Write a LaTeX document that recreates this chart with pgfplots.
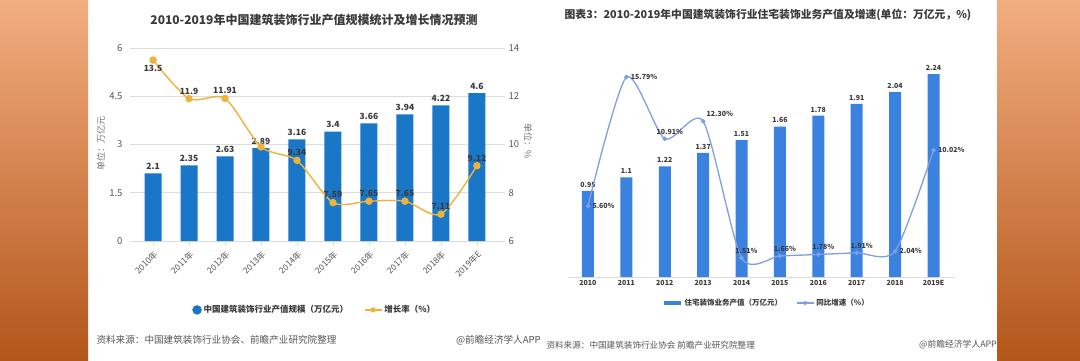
\documentclass[border=0pt]{standalone}
\usepackage{pgfplots}
\pgfplotsset{compat=1.18}
\usepackage{fontspec}
\setmainfont{Noto Sans CJK SC}
\definecolor{barL}{HTML}{1A76C6}
\definecolor{lineL}{HTML}{EDB33A}
\definecolor{barR}{HTML}{3B82E0}
\definecolor{lineR}{HTML}{7F9FDE}
\definecolor{gridc}{HTML}{DDDDDD}
\definecolor{txt}{HTML}{3A3A3A}
\definecolor{src}{HTML}{555555}
\definecolor{orTop}{HTML}{F2AE80}
\definecolor{orMid}{HTML}{E9853A}
\definecolor{orBot}{HTML}{B3561B}

\pgfplotstableread{
x val
0 2.1
1 2.35
2 2.63
3 2.89
4 3.16
5 3.4
6 3.66
7 3.94
8 4.22
9 4.6
}\leftbars
\pgfplotstableread{
x val
0 13.5
1 11.9
2 11.91
3 9.9
4 9.34
5 7.59
6 7.65
7 7.65
8 7.11
9 9.12
}\leftline
\pgfplotstableread{
x val
0 0.95
1 1.1
2 1.22
3 1.37
4 1.51
5 1.66
6 1.78
7 1.91
8 2.04
9 2.24
}\rightbars
\pgfplotstableread{
x val
0 5.60
1 15.79
2 10.91
3 12.30
4 1.51
5 1.66
6 1.78
7 1.91
8 2.04
9 10.02
}\rightline

\begin{document}
\begin{tikzpicture}[x=1pt,y=1pt]
\path[use as bounding box] (0,0) rectangle (1080,360);
\fill[white] (0,0) rectangle (1080,360);
\shade[top color=orTop, middle color=orMid, bottom color=orBot] (0,0) rectangle (88,360);
\shade[top color=orTop, middle color=orMid, bottom color=orBot] (997,0) rectangle (1080,360);

% ---------- left chart: bars ----------
\begin{axis}[at={(130pt,119pt)}, anchor=south west, scale only axis,
  width=375pt, height=193pt,
  xmin=-0.64, xmax=9.78, ymin=0, ymax=6,
  ytick={0,1.5,3,4.5,6}, yticklabels={0,1.5,3,4.5,6},
  ymajorgrids, grid style={gridc, line width=0.7pt},
  axis line style={draw=none},
  xtick={0,...,9},
  xticklabels={2010年,2011年,2012年,2013年,2014年,2015年,2016年,2017年,2018年,2019年E},
  x tick label style={rotate=45, anchor=north east, font=\fontsize{8.5}{8.5}\selectfont, text=src},
  y tick label style={font=\fontsize{9.5}{9.5}\selectfont, text=src},
  /pgf/number format/assume math mode=true,
  tick pos=left, tick align=outside, major tick length=4pt,
  xtick style={gridc, line width=0.7pt}, ytick style={draw=none},
  clip=false]
\addplot[ybar, bar width=17pt, fill=barL, draw=none,
  nodes near coords, nodes near coords style={font=\fontsize{8.5}{8.5}\selectfont\bfseries, text=txt},
  point meta=explicit symbolic] table[x=x, y=val, meta=val] {\leftbars};
\end{axis}

% ---------- left chart: line ----------
\begin{axis}[at={(130pt,119pt)}, anchor=south west, scale only axis,
  width=375pt, height=193pt,
  xmin=-0.64, xmax=9.78, ymin=6, ymax=14,
  ytick={6,8,10,12,14},
  axis y line*=right, axis x line=none,
  axis line style={draw=none}, ytick style={draw=none},
  y tick label style={font=\fontsize{9.5}{9.5}\selectfont, text=src},
  /pgf/number format/assume math mode=true,
  clip=false,
  legend style={at={(0.493,-0.357)}, anchor=center, draw=none, fill=none,
    legend columns=2, font=\fontsize{8.5}{8.5}\selectfont\bfseries, text=txt,
    /tikz/every even column/.append style={column sep=14pt}},
  legend cell align=left]
\addplot[lineL, line width=1.4pt, smooth, tension=0.45, mark=*, mark size=3pt,
  mark options={fill=lineL, draw=lineL}, forget plot] table[x=x, y=val] {\leftline};
% labels below (13.5)
\addplot[draw=none, mark=none, forget plot, nodes near coords,
  point meta=explicit symbolic,
  nodes near coords style={anchor=north, yshift=-2pt, font=\fontsize{8.5}{8.5}\selectfont\bfseries, text=txt}]
  table[meta=v] {x y v
0 13.5 13.5
};
% labels above
\addplot[draw=none, mark=none, forget plot, nodes near coords,
  point meta=explicit symbolic,
  nodes near coords style={anchor=south, yshift=1pt, font=\fontsize{8.5}{8.5}\selectfont\bfseries, text=txt}]
  table[meta=v] {x y v
1 11.9 11.9
2 11.91 11.91
4 9.34 9.34
5 7.59 7.59
6 7.65 7.65
7 7.65 7.65
8 7.11 7.11
9 9.12 9.12
};
\addlegendimage{only marks, mark=*, mark size=4.5pt, barL, mark options={fill=barL, draw=barL}}
\addlegendentry{中国建筑装饰行业产值规模（万亿元）}
\addlegendimage{lineL, line width=1.2pt, mark=*, mark size=2pt, mark options={fill=lineL}}
\addlegendentry{增长率（\%）}
\end{axis}

\node[font=\fontsize{12}{12}\selectfont\bfseries, text=txt] at (314,340) {2010-2019年中国建筑装饰行业产值规模统计及增长情况预测};
\node[font=\fontsize{9}{9}\selectfont, text=src!80, rotate=90] at (101,217) {单位：万亿元};
\node[font=\fontsize{9}{9}\selectfont, text=src!80, rotate=-90] at (528,219) {单位：\%};
\node[font=\fontsize{9.6}{10}\selectfont, text=src, anchor=west] at (93,20) {资料来源：中国建筑装饰行业协会、前瞻产业研究院整理};
\node[font=\fontsize{9.6}{10}\selectfont, text=src, anchor=east, inner sep=0pt] at (541,20) {@前瞻经济学人APP};

% ---------- right chart: bars ----------
\begin{axis}[at={(568pt,83pt)}, anchor=south west, scale only axis,
  width=387pt, height=226.5pt,
  xmin=-0.52, xmax=9.56, ymin=0, ymax=2.5,
  axis y line=none, axis x line*=bottom,
  x axis line style={gridc, line width=0.8pt, -},
  xtick={0,...,9},
  xticklabels={2010,2011,2012,2013,2014,2015,2016,2017,2018,2019E},
  xtick style={draw=none},
  x tick label style={font=\fontsize{7}{7}\selectfont\bfseries, text=txt},
  clip=false]
\addplot[ybar, bar width=12pt, fill=barR, draw=none,
  nodes near coords, nodes near coords style={font=\fontsize{7}{7}\selectfont\bfseries, text=txt},
  point meta=explicit symbolic] table[x=x, y=val, meta=val] {\rightbars};
\end{axis}

% ---------- right chart: line ----------
\begin{axis}[at={(568pt,83pt)}, anchor=south west, scale only axis,
  width=387pt, height=226.5pt,
  xmin=-0.52, xmax=9.56, ymin=0, ymax=17.89,
  hide axis, clip=false,
  legend style={at={(0.512,-0.115)}, anchor=center, draw=none, fill=none,
    legend columns=2, font=\fontsize{7.5}{7.5}\selectfont\bfseries, text=txt,
    /tikz/every even column/.append style={column sep=12pt}},
  legend cell align=left]
\addplot[lineR, line width=1.3pt, smooth, tension=0.42, mark=*, mark size=1.6pt,
  mark options={fill=lineR, draw=lineR}, forget plot] table[x=x, y=val] {\rightline};
\addplot[draw=none, mark=none, forget plot, nodes near coords,
  point meta=explicit symbolic,
  nodes near coords style={anchor=west, xshift=1pt, font=\fontsize{7}{7}\selectfont\bfseries, text=txt}]
  table[meta=v] {x y v
0 5.60 5.60\%
1 15.79 15.79\%
8 2.04 2.04\%
9 10.02 10.02\%
};
\addplot[draw=none, mark=none, forget plot, nodes near coords,
  point meta=explicit symbolic,
  nodes near coords style={anchor=south west, xshift=0pt, yshift=1pt, font=\fontsize{7}{7}\selectfont\bfseries, text=txt}]
  table[meta=v] {x y v
3 12.30 12.30\%
};
\addplot[draw=none, mark=none, forget plot, nodes near coords,
  point meta=explicit symbolic,
  nodes near coords style={anchor=south, xshift=5pt, yshift=1pt, font=\fontsize{7}{7}\selectfont\bfseries, text=txt}]
  table[meta=v] {x y v
2 10.91 10.91\%
4 1.51 1.51\%
5 1.66 1.66\%
6 1.78 1.78\%
7 1.91 1.91\%
};
\addlegendimage{barR, line width=4pt}
\addlegendentry{住宅装饰业务产值（万亿元）}
\addlegendimage{lineR, line width=1.2pt, mark=*, mark size=1.5pt, mark options={fill=lineR}}
\addlegendentry{同比增速（\%）}
\end{axis}

\node[font=\fontsize{10.8}{11}\selectfont\bfseries, text=txt] at (768,345) {图表3：2010-2019年中国建筑装饰行业住宅装饰业务产值及增速(单位：万亿元，\%)};
\node[font=\fontsize{8.6}{9}\selectfont, text=src, anchor=west] at (543,15) {资料来源：中国建筑装饰行业协会 前瞻产业研究院整理};
\node[font=\fontsize{8.8}{9}\selectfont, text=src, anchor=east, inner sep=0pt] at (997,15) {@前瞻经济学人APP};
\end{tikzpicture}
\end{document}
